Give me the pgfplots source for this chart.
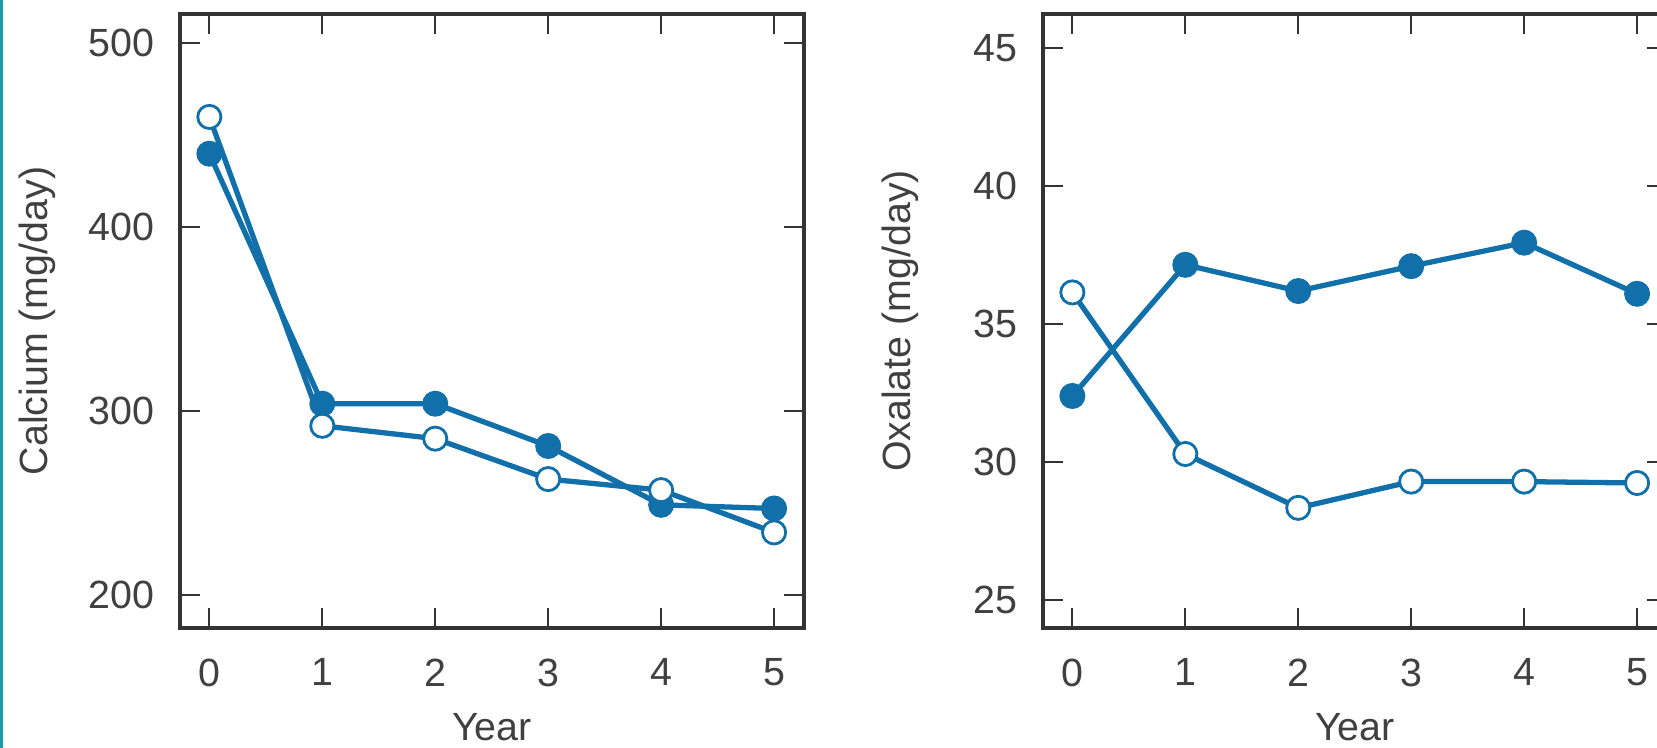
\documentclass[border=0pt]{standalone}
\usepackage{pgfplots}
\pgfplotsset{compat=1.18}
\usepackage{fontspec}
\setmainfont{Liberation Sans}

\definecolor{serblue}{HTML}{1170AA}
\definecolor{edgeteal}{HTML}{1A9BA6}
\definecolor{axgray}{HTML}{333333}
\definecolor{txtgray}{HTML}{404040}

\pgfplotsset{
  panel/.style={
    scale only axis, width=6.24cm, height=6.14cm,
    xmin=-0.26, xmax=5.265, xtick={0,...,5},
    tick align=inside, major tick length=0.2cm,
    axis line style={draw=axgray, line width=1.1pt},
    tick style={draw=axgray, line width=0.6pt},
    /pgf/number format/assume math mode=true,
    ticklabel style={font=\fontsize{11.2}{13}\selectfont, text=txtgray},
    xticklabel style={anchor=north, inner sep=0pt, yshift=-0.3cm},
    yticklabel style={anchor=east, inner sep=0pt, xshift=-0.25cm},
    label style={font=\fontsize{11.2}{13}\selectfont, text=txtgray},
    xlabel style={at={(axis description cs:0.5,-0.161)}, anchor=center},
    ylabel style={at={(axis description cs:-0.229,0.5)}, anchor=center},
    xlabel={Year},
  },
  filled/.style={serblue, line width=1.5pt, mark=*, mark size=3.4pt,
    mark options={fill=serblue, draw=serblue, line width=0.6pt}},
  hollow/.style={serblue, line width=1.5pt, mark=*, mark size=3.3pt,
    mark options={fill=white, draw=serblue, line width=0.8pt}},
}

\begin{document}
\begin{tikzpicture}[x=1cm,y=1cm]
\clip (0,0) rectangle (16.57,7.48);
\fill[white] (0,0) rectangle (16.57,7.48);

% Calcium
\begin{axis}[panel, at={(1.80cm,1.20cm)}, anchor=south west,
    ymin=182, ymax=516, ytick={200,300,400,500},
    ylabel={Calcium (mg/day)}]
\addplot[filled] coordinates {(0,440) (1,304) (2,304) (3,281) (4,249) (5,247)};
\addplot[hollow] coordinates {(0,460) (1,292) (2,285) (3,263) (4,257) (5,234)};
\end{axis}

% Oxalate
\begin{axis}[panel, at={(10.43cm,1.20cm)}, anchor=south west,
    ymin=24, ymax=46.23, ytick={25,30,35,40,45},
    ylabel={Oxalate (mg/day)}]
\addplot[filled] coordinates {(0,32.4) (1,37.15) (2,36.2) (3,37.1) (4,37.95) (5,36.1)};
\addplot[hollow] coordinates {(0,36.15) (1,30.3) (2,28.35) (3,29.3) (4,29.3) (5,29.25)};
\end{axis}

\fill[edgeteal] (0,0) rectangle (0.03,7.48);
\end{tikzpicture}
\end{document}
